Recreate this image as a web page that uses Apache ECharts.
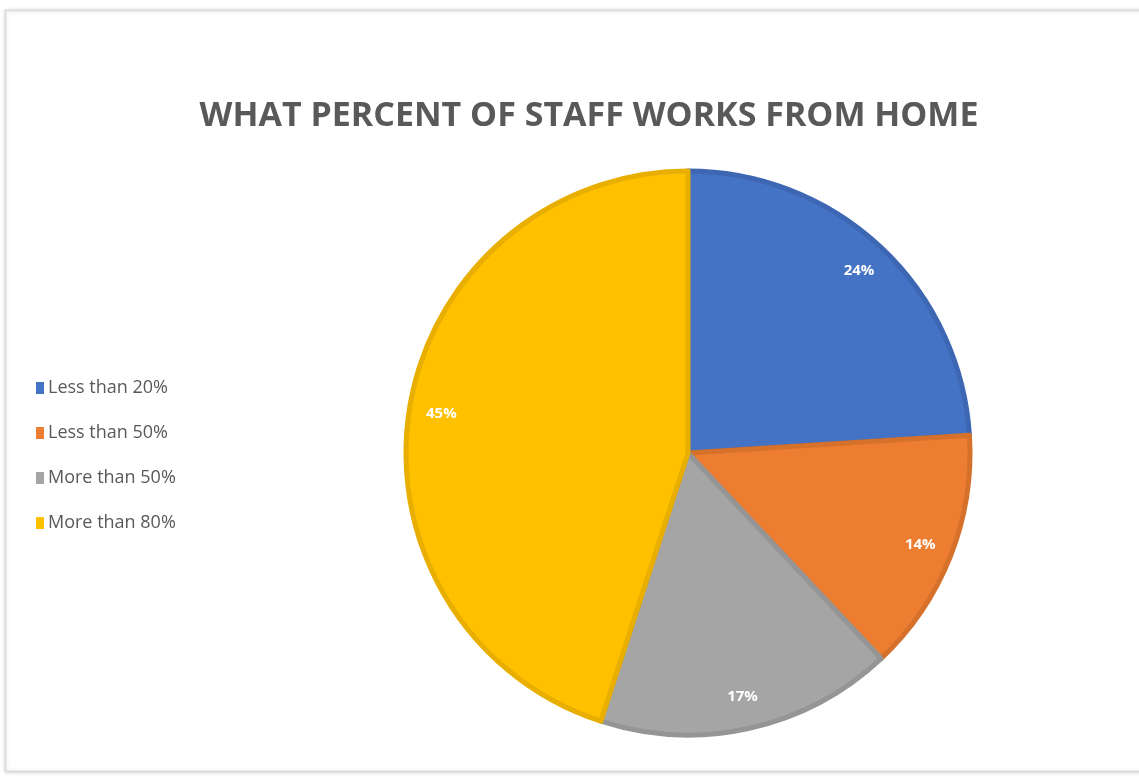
<!DOCTYPE html>
<html>
<head>
<meta charset="utf-8">
<script src="https://cdn.jsdelivr.net/npm/echarts@6/dist/echarts.min.js"></script>
<style>
  html, body { margin: 0; padding: 0; background: #ffffff; }
  #chart { width: 1139px; height: 776px; }
</style>
</head>
<body>
<div id="chart"></div>
<script>
// Share of staff working from home
const categories = ['Less than 20%', 'Less than 50%', 'More than 50%', 'More than 80%'];
const percents = [24, 14, 17, 45];
const fills = ['#4472C4', '#ED7D31', '#A5A5A5', '#FFC000'];
const edges = ['#3D67B3', '#D6712B', '#959595', '#E8AE00'];

const sliceData = categories.map((name, i) => ({
  name: name,
  value: percents[i],
  itemStyle: { color: fills[i], borderColor: edges[i] }
}));

const labelData = categories.map((name, i) => ({ name: name, value: percents[i] }));

const chart = echarts.init(document.getElementById('chart'), null, { renderer: 'canvas' });

const cx = 688, cy = 453, R = 282;

chart.setOption({
  backgroundColor: '#ffffff',
  animation: false,
  graphic: [{
    type: 'rect',
    shape: { x: 5.5, y: 10.5, width: 1160, height: 761 },
    style: {
      fill: '#ffffff',
      stroke: '#d9d9d9',
      lineWidth: 1.5,
      shadowBlur: 4,
      shadowColor: 'rgba(0,0,0,0.15)'
    },
    z: -10
  }],
  title: {
    text: 'WHAT PERCENT OF STAFF WORKS FROM HOME',
    left: 584,
    textAlign: 'center',
    top: 94,
    textStyle: {
      fontFamily: 'Open Sans',
      fontWeight: 'bold',
      fontSize: 34,
      color: '#595959'
    }
  },
  legend: {
    orient: 'vertical',
    left: 31,
    top: 374,
    itemGap: 27,
    itemWidth: 8,
    itemHeight: 12,
    icon: 'rect',
    data: categories,
    itemStyle: { borderWidth: 0 },
    textStyle: {
      fontFamily: 'Open Sans',
      fontSize: 18,
      lineHeight: 18,
      color: '#595959',
      padding: [0, 0, 0, -1]
    }
  },
  series: [{
    type: 'pie',
    center: [cx, cy],
    radius: [0, R],
    startAngle: 90,
    clockwise: true,
    data: sliceData,
    itemStyle: { borderWidth: 5 },
    label: { show: false },
    labelLine: { show: false },
    emphasis: { disabled: true }
  }, {
    // transparent ring that carries the percentage labels
    type: 'pie',
    center: [cx, cy],
    radius: [R * 0.75, R],
    startAngle: 90,
    clockwise: true,
    silent: true,
    legendHoverLink: false,
    data: labelData,
    itemStyle: { color: 'rgba(0,0,0,0)' },
    label: {
      show: true,
      position: 'inside',
      formatter: '{c}%',
      color: '#ffffff',
      fontFamily: 'Open Sans',
      fontWeight: 'bold',
      fontSize: 15
    },
    labelLine: { show: false },
    emphasis: { disabled: true }
  }]
});
</script>
</body>
</html>
